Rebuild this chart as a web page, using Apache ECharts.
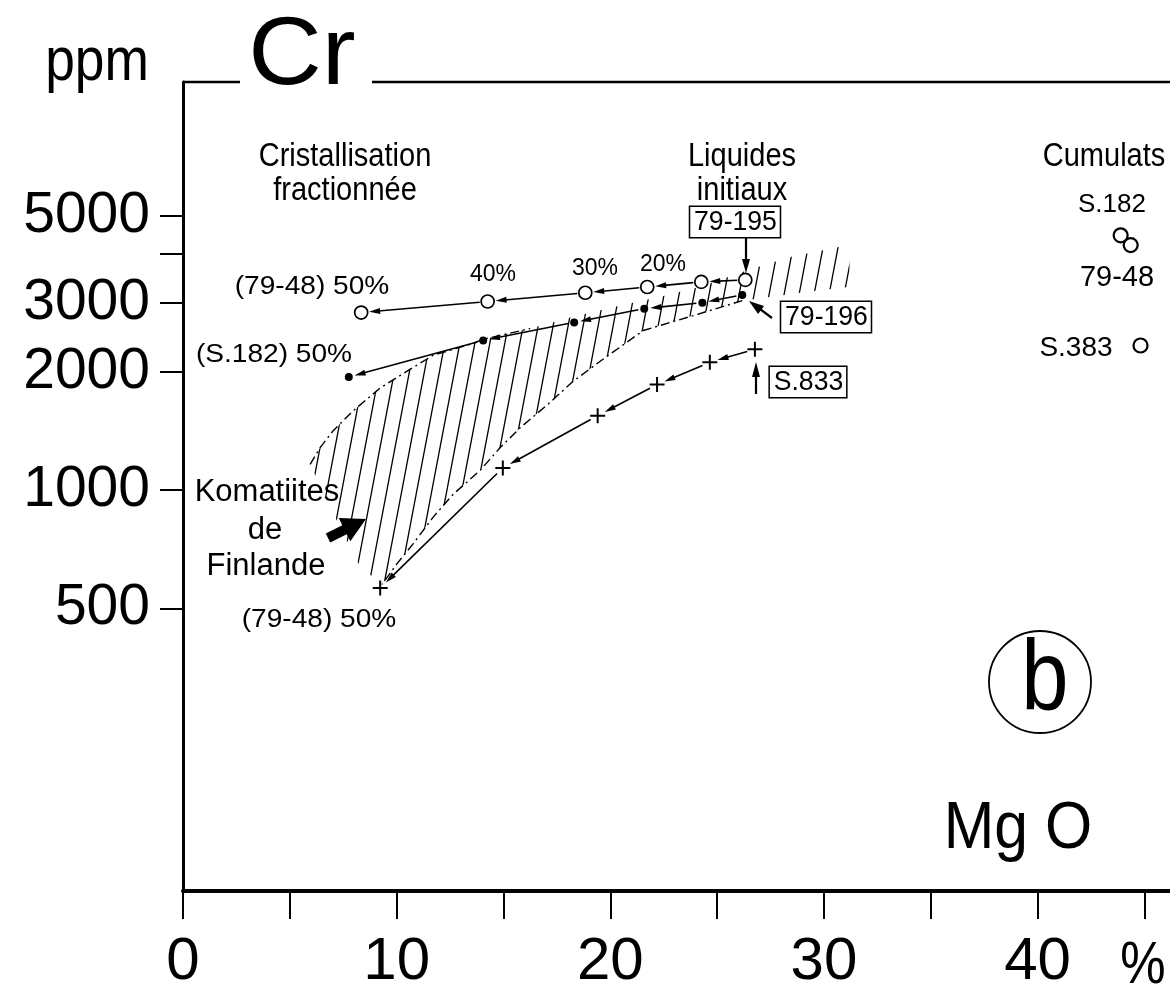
<!DOCTYPE html>
<html><head><meta charset="utf-8">
<script src="https://cdn.jsdelivr.net/npm/echarts@6/dist/echarts.min.js"></script>
<style>html,body{margin:0;padding:0;background:#fff}#c{width:1170px;height:992px}</style>
</head><body><div id="c"></div>
<script>
// ---- axis ticks / labels ----
const xTicks = [0,5,10,15,20,25,30,35,40,45];
const xLabels = [0,10,20,30,40];
const yTicks = [500,1000,2000,3000,4000,5000];
const yLabels = [500,1000,2000,3000,5000];

// ---- data (MgO %, Cr ppm) ----
// 79-195 -> mixing with 79-48 (open circles), from initial liquid to 50 %
const openX = [26.32, 24.26, 21.73, 18.83, 14.26, 8.34];
const openY = [3440, 3400, 3300, 3190, 3030, 2840];
// 79-196 -> S.182 (filled dots)
const filledX = [26.18, 24.31, 21.59, 18.31, 14.05, 7.76];
const filledY = [3150, 3010, 2905, 2680, 2410, 1945];
// S.833 -> 79-48 (crosses)
const crossX = [26.77, 24.66, 22.19, 19.41, 14.97, 9.23];
const crossY = [2290, 2120, 1860, 1550, 1140, 563];
// Cumulats: S.182, 79-48, S.383
const cumulX = [43.89, 44.36, 44.82];
const cumulY = [4470, 4220, 2340];
// Komatiites de Finlande field: upper edge (left->right), lower edge (right->left)
const upperX = [5.95, 6.42, 7.03, 7.96, 9.23, 10.49, 11.71, 13.44, 14.05, 16.25, 18.31, 20.47, 22.34, 24.22, 26.32, 28.43, 31.15];
const upperY = [1164, 1285, 1419, 1594, 1823, 2013, 2210, 2356, 2426, 2586, 2773, 2958, 3117, 3304, 3627, 3935, 4220];
const lowerX = [31.24, 28.90, 26.18, 23.89, 21.55, 19.53, 18.27, 17.05, 15.78, 14.85, 13.91, 12.65, 11.71, 10.77, 10.02, 9.32, 8.29, 7.12];
const lowerY = [3304, 3190, 3045, 2790, 2556, 2134, 1898, 1651, 1443, 1285, 1124, 977, 854, 730, 650, 575, 638, 854];

const SANS = '"Liberation Sans",sans-serif';

function hatchCanvas(){
  const w = 15, h = 79;
  const c = document.createElement('canvas'); c.width = w; c.height = h;
  const g = c.getContext('2d');
  g.strokeStyle = '#000'; g.lineWidth = 1.3;
  g.beginPath();
  [-w, 0, w].forEach(d => { g.moveTo(d, h); g.lineTo(d + w, 0); });
  g.stroke();
  return c;
}
const HATCH = hatchCanvas();

function pairs(xs, ys){ return xs.map((x, i) => [x, ys[i]]); }
function segs(xs, ys){ const o = []; for (let i = 0; i < xs.length - 1; i++) o.push([xs[i], ys[i], xs[i+1], ys[i+1]]); return o; }

function arrowSeries(xs, ys, g0, g1){
  return {
    type: 'custom', coordinateSystem: 'cartesian2d', data: segs(xs, ys),
    encode: { x: [0, 2], y: [1, 3] }, z: 4, silent: true,
    renderItem(params, api){
      const a = api.coord([api.value(0), api.value(1)]);
      const b = api.coord([api.value(2), api.value(3)]);
      const dx = b[0]-a[0], dy = b[1]-a[1], L = Math.hypot(dx, dy), ux = dx/L, uy = dy/L;
      const s = [a[0]+ux*g0, a[1]+uy*g0], e = [b[0]-ux*g1, b[1]-uy*g1];
      const hl = 11, hw = 3;
      const base = [e[0]-ux*hl, e[1]-uy*hl], px = -uy, py = ux;
      return { type: 'group', children: [
        { type: 'line', shape: { x1: s[0], y1: s[1], x2: base[0]+ux*2, y2: base[1]+uy*2 }, style: { stroke: '#000', lineWidth: 1.6 } },
        { type: 'polygon', shape: { points: [e, [base[0]+px*hw, base[1]+py*hw], [base[0]-px*hw, base[1]-py*hw]] }, style: { fill: '#000' } }
      ]};
    }
  };
}

function txt(text, x, y, size, sx, extra){
  return { type: 'text', z: 10, x, y, scaleX: sx || 1,
    style: Object.assign({ text, x: 0, y: 0, fontSize: size, fontFamily: SANS, fill: '#000', align: 'center', verticalAlign: 'middle' }, extra || {}) };
}
function boxed(text, x, y){
  return txt(text, x, y, 28, 0.95, { borderColor: '#000', borderWidth: 1.6, padding: [2, 3, 0, 4], backgroundColor: '#fff' });
}
function gArrow(x1, y1, x2, y2, hl, hw){
  const dx = x2-x1, dy = y2-y1, L = Math.hypot(dx, dy), ux = dx/L, uy = dy/L, px = -uy, py = ux;
  const bx = x2-ux*hl, by = y2-uy*hl;
  return [
    { type: 'line', z: 10, shape: { x1, y1, x2: bx+ux*2, y2: by+uy*2 }, style: { stroke: '#000', lineWidth: 2.2 } },
    { type: 'polygon', z: 10, shape: { points: [[x2, y2], [bx+px*hw, by+py*hw], [bx-px*hw, by-py*hw]] }, style: { fill: '#000' } }
  ];
}
function fatArrow(x1, y1, x2, y2){
  const dx = x2-x1, dy = y2-y1, L = Math.hypot(dx, dy), ux = dx/L, uy = dy/L, px = -uy, py = ux;
  const hl = 24, hw = 13, sw = 5;
  const bx = x2-ux*hl, by = y2-uy*hl;
  return { type: 'polygon', z: 10, shape: { points: [
    [x1+px*sw, y1+py*sw], [bx+px*sw, by+py*sw], [bx+px*hw, by+py*hw], [x2, y2],
    [bx-px*hw, by-py*hw], [bx-px*sw, by-py*sw], [x1-px*sw, y1-py*sw]
  ] }, style: { fill: '#000' } };
}

const chart = echarts.init(document.getElementById('c'), null, { renderer: 'canvas' });
const polyX = upperX.concat(lowerX), polyY = upperY.concat(lowerY);

chart.setOption({
  animation: false,
  backgroundColor: '#fff',
  grid: { left: 183, right: 0, top: 82, bottom: 95, containLabel: false },
  xAxis: {
    type: 'value', min: 0, max: 46.2, splitLine: { show: false },
    axisLine: { show: true, onZero: false, lineStyle: { color: '#000', width: 4 } },
    axisTick: { show: true, customValues: xTicks, length: 28, lineStyle: { color: '#000', width: 2 } },
    axisLabel: { customValues: xLabels, margin: 41, fontSize: 60, fontFamily: SANS, color: '#000' }
  },
  yAxis: {
    type: 'log', logBase: 10, min: 95, max: 11000, splitLine: { show: false },
    axisLine: { show: true, lineStyle: { color: '#000', width: 3 } },
    axisTick: { show: true, customValues: yTicks, length: 23, lineStyle: { color: '#000', width: 2 } },
    minorTick: { show: false },
    axisLabel: { customValues: yLabels, margin: 33, fontSize: 57, fontFamily: SANS, color: '#000',
      formatter: v => String(Math.round(v)) }
  },
  series: [
    { type: 'custom', coordinateSystem: 'cartesian2d', data: pairs(polyX, polyY), encode: { x: 0, y: 1 }, z: 1, silent: true,
      renderItem(params, api){
        if (params.dataIndex !== 0) return null;
        const pts = [];
        for (let i = 0; i < params.dataInsideLength; i++) pts.push(api.coord([api.value(0, i), api.value(1, i)]));
        return { type: 'polygon', shape: { points: pts }, style: { fill: { image: HATCH, repeat: 'repeat' }, stroke: null } };
      } },
    { type: 'line', data: pairs(upperX.slice(0, 10), upperY.slice(0, 10)), symbol: 'none', z: 2, silent: true,
      lineStyle: { color: '#000', width: 1.4, type: [9, 4, 2, 4] } },
    { type: 'line', data: pairs(lowerX.slice(2, 16), lowerY.slice(2, 16)), symbol: 'none', z: 2, silent: true,
      lineStyle: { color: '#000', width: 1.4, type: [9, 4, 2, 4] } },
    arrowSeries(openX, openY, 8, 8),
    arrowSeries(filledX, filledY, 6, 6),
    arrowSeries(crossX, crossY, 8, 8),
    { type: 'scatter', data: pairs(openX, openY), symbol: 'circle', symbolSize: 13, z: 5,
      itemStyle: { color: '#fff', borderColor: '#000', borderWidth: 1.7, opacity: 1 } },
    { type: 'scatter', data: pairs(filledX, filledY), symbol: 'circle', symbolSize: 8, z: 5,
      itemStyle: { color: '#000', opacity: 1 } },
    { type: 'scatter', data: pairs(crossX, crossY), symbol: 'path://M5 0L5 10M0 5L10 5', symbolSize: 15, z: 5,
      itemStyle: { color: 'none', borderColor: '#000', borderWidth: 2, opacity: 1 } },
    { type: 'scatter', data: pairs(cumulX, cumulY), symbol: 'circle', symbolSize: 14, z: 5,
      itemStyle: { color: 'rgba(0,0,0,0)', borderColor: '#000', borderWidth: 2.2, opacity: 1 } }
  ],
  graphic: [
    { type: 'line', z: 10, shape: { x1: 183, y1: 82, x2: 240, y2: 82 }, style: { stroke: '#000', lineWidth: 2.5 } },
    { type: 'line', z: 10, shape: { x1: 372, y1: 82, x2: 1170, y2: 82 }, style: { stroke: '#000', lineWidth: 2.5 } },
    txt('ppm', 97, 63, 62, 0.86),
    txt('Cr', 302, 57, 97, 1.05),
    txt('Cristallisation', 345, 157, 33, 0.88),
    txt('fractionnée', 345, 191, 33, 0.88),
    txt('Liquides', 742, 157, 33, 0.88),
    txt('initiaux', 742, 191, 33, 0.88),
    txt('Cumulats', 1104, 157, 33, 0.88),
    txt('S.182', 1112, 205, 26),
    txt('79-48', 1117, 278, 29),
    txt('S.383', 1076, 348, 28),
    txt('(79-48) 50%', 312, 287, 26, 1.08),
    txt('40%', 493, 275, 23),
    txt('30%', 595, 269, 23),
    txt('20%', 663, 265, 23),
    txt('(S.182) 50%', 274, 355, 26, 1.08),
    txt('(79-48) 50%', 319, 620, 26, 1.08),
    txt('Komatiites', 267, 492, 31),
    txt('de', 265, 530, 31),
    txt('Finlande', 266, 566, 31),
    fatArrow(328, 538, 366, 519),
    boxed('79-195', 735, 222),
    boxed('79-196', 826, 317),
    boxed('S.833', 808, 382),
    ...gArrow(746, 238, 746, 273, 14, 4),
    ...gArrow(772, 318, 749, 301, 15, 5),
    ...gArrow(756, 394, 756, 362, 15, 4),
    { type: 'circle', z: 10, shape: { cx: 1040, cy: 682, r: 51 }, style: { fill: 'none', stroke: '#000', lineWidth: 1.8 } },
    txt('b', 1045, 682, 100, 0.85),
    txt('Mg O', 1018, 830, 66, 0.92),
    txt('%', 1143, 966, 60, 0.85)
  ]
});
</script></body></html>
